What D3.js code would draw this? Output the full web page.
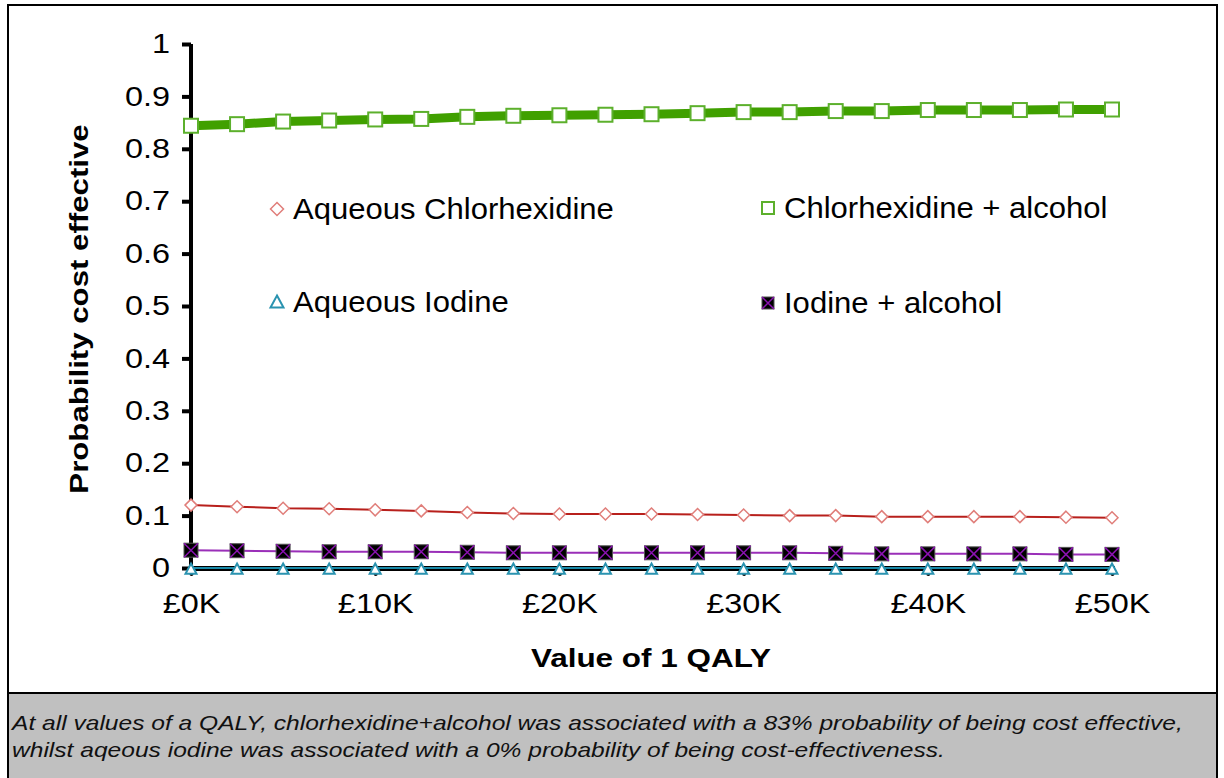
<!DOCTYPE html>
<html>
<head>
<meta charset="utf-8">
<script src="https://cdn.jsdelivr.net/npm/d3@7"></script>
<style>
body{margin:0;padding:0;background:#fff;}
text{font-family:"Liberation Sans",Arial,sans-serif;}
</style>
</head>
<body>
<div id="svgContainer"></div>
<script>
// chart data
var qaly = [0,2500,5000,7500,10000,12500,15000,17500,20000,22500,25000,27500,30000,32500,35000,37500,40000,42500,45000,47500,50000];
var aqChlor = [0.120,0.117,0.114,0.113,0.111,0.109,0.106,0.104,0.103,0.103,0.103,0.102,0.101,0.100,0.100,0.098,0.098,0.098,0.098,0.097,0.096];
var chlorAlc = [0.844,0.847,0.852,0.854,0.856,0.857,0.861,0.863,0.864,0.865,0.866,0.868,0.870,0.870,0.872,0.872,0.874,0.874,0.874,0.875,0.875];
var aqIodine = [0,0,0,0,0,0,0,0,0,0,0,0,0,0,0,0,0,0,0,0,0];
var iodAlc = [0.034,0.033,0.032,0.031,0.031,0.031,0.030,0.029,0.029,0.029,0.029,0.029,0.029,0.029,0.028,0.027,0.027,0.027,0.027,0.026,0.026];
var yTicks = [0,0.1,0.2,0.3,0.4,0.5,0.6,0.7,0.8,0.9,1];
var xTicks = [0,10000,20000,30000,40000,50000];
var seriesNames = ["Aqueous Chlorhexidine","Chlorhexidine + alcohol","Aqueous Iodine","Iodine + alcohol"];
var captionLines = ["At all values of a QALY, chlorhexidine+alcohol was associated with a 83% probability of being cost effective,",
    "whilst aqeous iodine was associated with a 0% probability of being cost-effectiveness."];

var svgWidth = 1224, svgHeight = 778;
var svg = d3.select("#svgContainer").append("svg")
    .attr("width",svgWidth)
    .attr("height",svgHeight);

var x = d3.scaleLinear().domain([0,50000]).range([191,1112]);
var y = d3.scaleLinear().domain([0,1]).range([568,44]);

// the original picture has its text a bit wider than the font gives
function stretch(sel,f){
    sel.each(function(){
        var w = this.getComputedTextLength();
        d3.select(this).attr("textLength",w*f).attr("lengthAdjust","spacingAndGlyphs");
    });
}

// frame and caption box
svg.append("rect").attr("x",8).attr("y",5).attr("width",1209).attr("height",790)
    .attr("fill","#fff").attr("stroke","#000").attr("stroke-width",2);
svg.append("rect").attr("x",8).attr("y",693).attr("width",1209).attr("height",100)
    .attr("fill","#c0c0c0").attr("stroke","#000").attr("stroke-width",2);

captionLines.forEach(function(t,i){
    var c = svg.append("text").attr("x",12).attr("y",730+i*27)
        .attr("font-size",21).attr("font-style","italic").attr("fill","#111")
        .text(t);
    stretch(c,1.17);
});

// y axis
var yAxis = svg.append("g").attr("transform","translate(191,0)")
    .call(d3.axisLeft(y).tickValues(yTicks).tickFormat(d3.format("")).tickSize(9).tickPadding(12));
yAxis.select(".domain").attr("stroke-width",4).attr("d","M0,"+y(1)+"V"+(y(0)+4));
yAxis.selectAll(".tick line").attr("stroke-width",4);
yAxis.selectAll(".tick text").attr("font-size",27).attr("fill","#000")
    .attr("font-family","Liberation Sans, Arial, sans-serif");
stretch(yAxis.selectAll(".tick text"),1.2);

// x axis
var xAxis = svg.append("g").attr("transform","translate(0,568)")
    .call(d3.axisBottom(x).tickValues(xTicks).tickFormat(function(d){return "£"+(d/1000)+"K";}).tickSize(6).tickPadding(20));
xAxis.select(".domain").attr("stroke-width",5);
xAxis.selectAll(".tick line").attr("stroke-width",4).attr("stroke-linecap","round");
xAxis.selectAll(".tick text").attr("font-size",27).attr("fill","#000")
    .attr("font-family","Liberation Sans, Arial, sans-serif");
stretch(xAxis.selectAll(".tick text"),1.2);

// axis titles
var xt = svg.append("text").attr("x",651).attr("y",667).attr("text-anchor","middle")
    .attr("font-size",26).attr("font-weight","bold").text("Value of 1 QALY");
stretch(xt,1.21);
var yt = svg.append("text").attr("transform","translate(88,309) rotate(-90)").attr("text-anchor","middle")
    .attr("font-size",26).attr("font-weight","bold").text("Probability cost effective");
stretch(yt,1.2);

var line = d3.line().x(function(d){return x(d[0]);}).y(function(d){return y(d[1]);});
function pairs(vals){ return qaly.map(function(q,i){return [q,vals[i]];}); }

// lines
svg.append("path").datum(pairs(aqIodine)).attr("d",line).attr("fill","none")
    .attr("stroke","#1a8aa8").attr("stroke-width",2);
svg.append("path").datum(pairs(iodAlc)).attr("d",line).attr("fill","none")
    .attr("stroke","#9a2fb8").attr("stroke-width",2);
svg.append("path").datum(pairs(aqChlor)).attr("d",line).attr("fill","none")
    .attr("stroke","#b8201c").attr("stroke-width",2);
svg.append("path").datum(pairs(chlorAlc)).attr("d",line).attr("fill","none")
    .attr("stroke","#40a000").attr("stroke-width",9);

// marker drawers
function diamond(g,cx,cy,s){
    g.append("path").attr("d","M"+cx+","+(cy-s)+"L"+(cx+s)+","+cy+"L"+cx+","+(cy+s)+"L"+(cx-s)+","+cy+"Z")
        .attr("fill","#fff").attr("stroke","#e07e7a").attr("stroke-width",1.5);
}
function square(g,cx,cy,s){
    g.append("rect").attr("x",cx-s).attr("y",cy-s).attr("width",2*s).attr("height",2*s)
        .attr("fill","#fff").attr("stroke","#5cb02c").attr("stroke-width",2);
}
function triangle(g,cx,cy,s){
    g.append("path").attr("d","M"+cx+","+(cy-s)+"L"+(cx+s)+","+(cy+s*0.85)+"L"+(cx-s)+","+(cy+s*0.85)+"Z")
        .attr("fill","#fff").attr("stroke","#2a93b0").attr("stroke-width",2);
}
function xsquare(g,cx,cy,s){
    g.append("rect").attr("x",cx-s).attr("y",cy-s).attr("width",2*s).attr("height",2*s)
        .attr("fill","#000").attr("stroke","#555").attr("stroke-width",1);
    g.append("path").attr("d","M"+(cx-s)+","+(cy-s)+"L"+(cx+s)+","+(cy+s)+"M"+(cx+s)+","+(cy-s)+"L"+(cx-s)+","+(cy+s))
        .attr("stroke","#8a12b0").attr("stroke-width",1.5);
}

var mk = svg.append("g");
qaly.forEach(function(q,i){ triangle(mk,x(q),y(aqIodine[i])+1,5.5); });
qaly.forEach(function(q,i){ xsquare(mk,x(q),y(iodAlc[i]),7); });
qaly.forEach(function(q,i){ diamond(mk,x(q),y(aqChlor[i]),6); });
qaly.forEach(function(q,i){ square(mk,x(q),y(chlorAlc[i]),7); });

// legend
var lg = svg.append("g");
var legendPos = [[277,209],[768,208],[277,302],[768,303]];
var legendDraw = [diamond,square,triangle,xsquare];
var legendSize = [6.5,6,6.5,6];
seriesNames.forEach(function(n,i){
    legendDraw[i](lg,legendPos[i][0],legendPos[i][1],legendSize[i]);
    var t = lg.append("text").attr("x",legendPos[i][0]+16).attr("y",legendPos[i][1]+10)
        .attr("font-size",29).attr("fill","#000").text(n);
    stretch(t,1.07);
});
</script>
</body>
</html>
